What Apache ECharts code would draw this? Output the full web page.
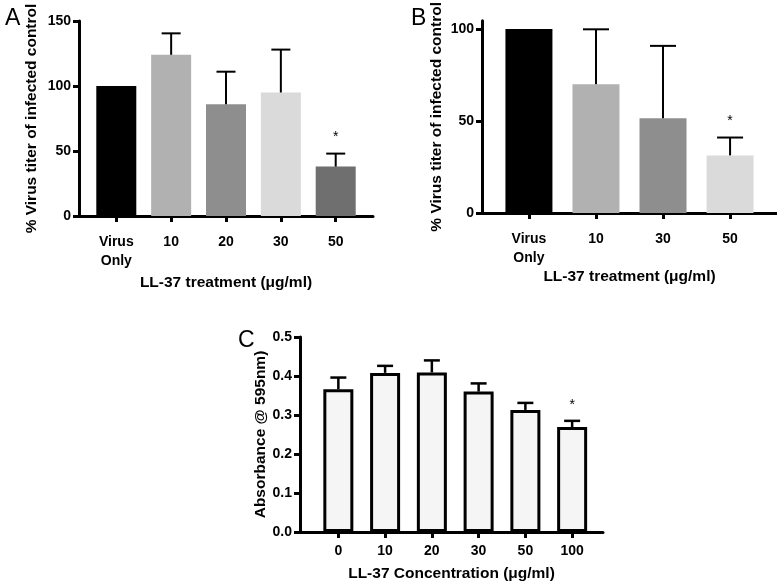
<!DOCTYPE html>
<html><head><meta charset="utf-8">
<script src="https://cdn.jsdelivr.net/npm/echarts@6/dist/echarts.min.js"></script>
<style>html,body{margin:0;padding:0;background:#fff}#c{width:777px;height:583px}</style>
</head><body><div id="c"></div>
<script>
// ---- Data ----
const catsA = ['Virus\nOnly', '10', '20', '30', '50'];
const meanA = [100, 124, 86, 95, 38];
const errA  = [null, 16.5, 25, 33, 10];
const sigA  = [0, 0, 0, 0, 1];

const catsB = ['Virus\nOnly', '10', '30', '50'];
const meanB = [100, 70, 51.5, 31.3];
const errB  = [null, 29.8, 39.3, 9.7];
const sigB  = [0, 0, 0, 1];

const catsC = ['0', '10', '20', '30', '50', '100'];
const meanC = [0.366, 0.408, 0.409, 0.360, 0.313, 0.269];
const errC  = [0.030, 0.018, 0.031, 0.021, 0.018, 0.016];
const sigC  = [0, 0, 0, 0, 0, 1];

const ticksA = [0, 50, 100, 150];
const ticksB = [0, 50, 100];
const ticksC = [0, 0.1, 0.2, 0.3, 0.4, 0.5];

// ---- Styles ----
const colorsA = ['#000000', '#b1b1b1', '#8e8e8e', '#dadada', '#6f6f6f'];
const colorsB = ['#000000', '#b1b1b1', '#8e8e8e', '#dadada'];
const FONT = '"Liberation Sans", Arial, sans-serif';
const NAME_SIZE = 15.5;

const chart = echarts.init(document.getElementById('c'));

function idx(arr){ return arr.map((_, i) => i); }

function xAxisFor(gi, cats, min, max, margin, name, nameGap){
  return {
    type: 'value', gridIndex: gi, min: min, max: max,
    axisLine: {show: true, onZero: false, lineStyle: {color: '#000', width: 3}},
    axisTick: {show: true, length: 6, lineStyle: {color: '#000', width: 3}, customValues: idx(cats)},
    axisLabel: {customValues: idx(cats), formatter: v => cats[Math.round(v)],
      color: '#000', fontFamily: FONT, fontWeight: 'bold', fontSize: 14, lineHeight: 19, margin: margin},
    splitLine: {show: false},
    name: name, nameLocation: 'middle', nameGap: nameGap,
    nameTextStyle: {color: '#000', fontFamily: FONT, fontWeight: 'bold', fontSize: NAME_SIZE}
  };
}
function yAxisFor(gi, min, max, ticks, name, nameGap, fmt){
  return {
    type: 'value', gridIndex: gi, min: min, max: max,
    axisLine: {show: true, onZero: false, lineStyle: {color: '#000', width: 3}},
    axisTick: {show: true, length: 6, lineStyle: {color: '#000', width: 3}, customValues: ticks},
    axisLabel: {customValues: ticks, formatter: fmt || (v => String(v)),
      color: '#000', fontFamily: FONT, fontWeight: 'bold', fontSize: 14, margin: 8},
    splitLine: {show: false},
    name: name, nameLocation: 'middle', nameGap: nameGap,
    nameTextStyle: {color: '#000', fontFamily: FONT, fontWeight: 'bold', fontSize: NAME_SIZE}
  };
}
function errSeries(gi, mean, err, sig, capHalf, lw){
  return {
    type: 'custom', xAxisIndex: gi, yAxisIndex: gi, z: 5,
    data: mean.map((m, i) => [i, m, err[i] == null ? 0 : err[i], sig[i], err[i] == null ? 0 : 1]),
    renderItem: function(params, api){
      const x = api.value(0), m = api.value(1), e = api.value(2), s = api.value(3), has = api.value(4);
      const base = api.coord([x, m]);
      const top = api.coord([x, m + e]);
      const children = [];
      if (has) {
        children.push({type: 'line', shape: {x1: base[0], y1: base[1], x2: top[0], y2: top[1]},
          style: {stroke: '#000', lineWidth: lw}});
        children.push({type: 'line', shape: {x1: top[0] - capHalf, y1: top[1], x2: top[0] + capHalf, y2: top[1]},
          style: {stroke: '#000', lineWidth: lw}});
      }
      if (s) {
        children.push({type: 'text', x: top[0], y: top[1] - 16,
          style: {text: '*', fill: '#000', fontSize: 14, fontFamily: FONT, align: 'center', verticalAlign: 'middle'}});
      }
      return {type: 'group', children: children};
    }
  };
}

const option = {
  backgroundColor: '#fff',
  animation: false,
  title: [
    {text: 'A', left: 0, top: 2, textStyle: {fontFamily: FONT, fontWeight: 'normal', fontSize: 23, color: '#000'}},
    {text: 'B', left: 406, top: 2, textStyle: {fontFamily: FONT, fontWeight: 'normal', fontSize: 23, color: '#000'}},
    {text: 'C', left: 233, top: 324, textStyle: {fontFamily: FONT, fontWeight: 'normal', fontSize: 23, color: '#000'}}
  ],
  grid: [
    {left: 79, top: 21, width: 294, height: 195},
    {left: 482, top: 19, width: 296, height: 194},
    {left: 300, top: 337, width: 303, height: 197}
  ],
  xAxis: [
    xAxisFor(0, catsA, -0.68, 4.68, 17, 'LL-37 treatment (\u03bcg/ml)', 59),
    xAxisFor(1, catsB, -0.7, 3.7, 17, 'LL-37 treatment (\u03bcg/ml)', 56),
    xAxisFor(2, catsC, -0.82, 5.66, 10, 'LL-37 Concentration (\u03bcg/ml)', 34)
  ],
  yAxis: [
    yAxisFor(0, 0, 150, ticksA, '% Virus titer of infected control', 39),
    yAxisFor(1, 0, 104.5, ticksB, '% Virus titer of infected control', 37),
    yAxisFor(2, 0, 0.5, ticksC, 'Absorbance @ 595nm)', 30, v => v.toFixed(1))
  ],
  series: [
    {type: 'bar', xAxisIndex: 0, yAxisIndex: 0, barWidth: 40,
      data: meanA.map((v, i) => ({value: [i, v], itemStyle: {color: colorsA[i]}}))},
    errSeries(0, meanA, errA, sigA, 9.5, 2),
    {type: 'bar', xAxisIndex: 1, yAxisIndex: 1, barWidth: 47,
      data: meanB.map((v, i) => ({value: [i, v], itemStyle: {color: colorsB[i]}}))},
    errSeries(1, meanB, errB, sigB, 13, 2),
    {type: 'bar', xAxisIndex: 2, yAxisIndex: 2, barWidth: 30,
      itemStyle: {color: '#f5f5f5', borderColor: '#000', borderWidth: 3},
      data: meanC.map((v, i) => [i, v])},
    errSeries(2, meanC, errC, sigC, 8, 2.5)
  ]
};
chart.setOption(option);
</script></body></html>
